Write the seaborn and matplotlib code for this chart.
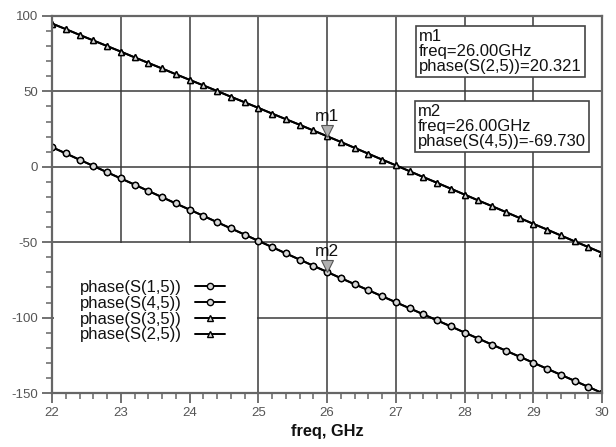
import matplotlib
matplotlib.use("Agg")
import matplotlib.pyplot as plt
import seaborn as sns
import numpy as np
import pandas as pd
from matplotlib.patches import Rectangle
from matplotlib.ticker import MultipleLocator

freq = [22.0, 22.2, 22.4, 22.6, 22.8, 23.0, 23.2, 23.4, 23.6, 23.8,
        24.0, 24.2, 24.4, 24.6, 24.8, 25.0, 25.2, 25.4, 25.6, 25.8,
        26.0, 26.2, 26.4, 26.6, 26.8, 27.0, 27.2, 27.4, 27.6, 27.8,
        28.0, 28.2, 28.4, 28.6, 28.8, 29.0, 29.2, 29.4, 29.6, 29.8, 30.0]

phase_s25 = [95.0, 91.3, 87.5, 83.8, 80.1, 76.4, 72.6, 68.9, 65.2, 61.4,
             57.7, 54.0, 50.3, 46.5, 42.8, 39.1, 35.3, 31.6, 27.9, 24.1,
             20.3, 16.5, 12.6, 8.7, 4.8, 1.0, -2.9, -6.8, -10.6, -14.5,
             -18.4, -22.3, -26.1, -30.0, -33.9, -37.8, -41.6, -45.5, -49.4, -53.2, -57.1]
phase_s35 = list(phase_s25)

phase_s45 = [13.0, 8.9, 4.7, 0.6, -3.6, -7.7, -11.8, -16.0, -20.1, -24.3,
             -28.4, -32.5, -36.7, -40.8, -44.9, -49.1, -53.2, -57.4, -61.5, -65.6,
             -69.7, -73.8, -77.8, -81.8, -85.8, -89.8, -93.8, -97.8, -101.8, -105.8,
             -109.9, -113.9, -117.9, -121.9, -125.9, -129.9, -133.9, -137.9, -141.9, -145.9, -150.0]
phase_s15 = list(phase_s45)

series_names = ["phase(S(1,5))", "phase(S(4,5))", "phase(S(3,5))", "phase(S(2,5))"]
series_vals = [phase_s15, phase_s45, phase_s35, phase_s25]
series_markers = ["o", "o", "^", "^"]

marker_freq = 26.0
m1_val = 20.321
m2_val = -69.730

sns.set_theme(style="white")
plt.rcParams['font.family'] = ['Liberation Sans', 'DejaVu Sans']

fig = plt.figure(figsize=(6.16, 4.47), dpi=100)
ax = fig.add_axes([52/616, 1-393/447, (602-52)/616, (393-16)/447])

gridc = "#3a3a3a"
ax.set_xlim(22, 30)
ax.set_ylim(-150, 100)
ax.xaxis.set_major_locator(MultipleLocator(1))
ax.xaxis.set_minor_locator(MultipleLocator(0.2))
ax.yaxis.set_major_locator(MultipleLocator(50))
ax.yaxis.set_minor_locator(MultipleLocator(10))
ax.grid(True, which="major", color=gridc, linewidth=1.1, zorder=0)
ax.set_axisbelow(True)

# legend background block covering grid cell
ax.add_patch(Rectangle((0.003, 0.003), 3/8 - 0.006, 0.4 - 0.006, transform=ax.transAxes,
                       facecolor="white", edgecolor="none", zorder=1))

for name, vals, mk in zip(series_names, series_vals, series_markers):
    df = pd.DataFrame({"freq": freq, "val": vals})
    sns.lineplot(data=df, x="freq", y="val", ax=ax, color="black", linewidth=1.4,
                 marker=mk, markersize=4.5 if mk == "o" else 5, markerfacecolor="#d8d8d8",
                 markeredgecolor="black", markeredgewidth=1.0, zorder=3, label=name)

leg = ax.legend(loc="upper left", bbox_to_anchor=(0.05, 0.30), frameon=False,
                markerfirst=False, fontsize=12, handlelength=1.8, handletextpad=0.8,
                labelspacing=0.05, borderaxespad=0, borderpad=0)
for t in leg.get_texts():
    t.set_color("#111111")

# marker indicators
for val, lab in [(m1_val, "m1"), (m2_val, "m2")]:
    ax.plot([marker_freq], [val], marker="v", markersize=8, color="#b0b0b0",
            markeredgecolor="#555555", markeredgewidth=0.8, zorder=5,
            transform=ax.transData + matplotlib.transforms.ScaledTranslation(0, 4/72, fig.dpi_scale_trans))
    ax.annotate(lab, (marker_freq, val), xytext=(0, 9), textcoords="offset points",
                ha="center", va="bottom", fontsize=12.5, color="#111111", zorder=6)

# marker readout boxes
box_props = dict(boxstyle="square,pad=0.2", facecolor="white", edgecolor="#444444", linewidth=1.2)
fig.text(419/616, 1-29/447, "m1\nfreq=26.00GHz\nphase(S(2,5))=%.3f" % m1_val,
         ha="left", va="top", fontsize=12, color="#111111", linespacing=1.0,
         bbox=box_props, zorder=10)
fig.text(418/616, 1-104/447, "m2\nfreq=26.00GHz\nphase(S(4,5))=%.3f" % m2_val,
         ha="left", va="top", fontsize=12, color="#111111", linespacing=1.0,
         bbox=box_props, zorder=10)

for s in ax.spines.values():
    s.set_color("#666666")
    s.set_linewidth(1.6)
    s.set_zorder(4)

ax.tick_params(which="major", direction="out", length=7, width=1.3, color="#666666",
               labelsize=9.5, labelcolor="#555555", bottom=True, left=True, pad=3)
ax.tick_params(which="minor", direction="out", length=4, width=1.1, color="#666666",
               bottom=True, left=True)
ax.set_xticks([22, 23, 24, 25, 26, 27, 28, 29, 30])
ax.set_xticklabels(["22", "23", "24", "25", "26", "27", "28", "29", "30"])
ax.set_yticks([-150, -100, -50, 0, 50, 100])
ax.set_yticklabels(["-150", "-100", "-50", "0", "50", "100"])
ax.set_xlabel("freq, GHz", fontsize=11.8, fontweight="bold", color="#111111", labelpad=4)
ax.set_ylabel("")

fig.savefig("out.png", dpi=100)
